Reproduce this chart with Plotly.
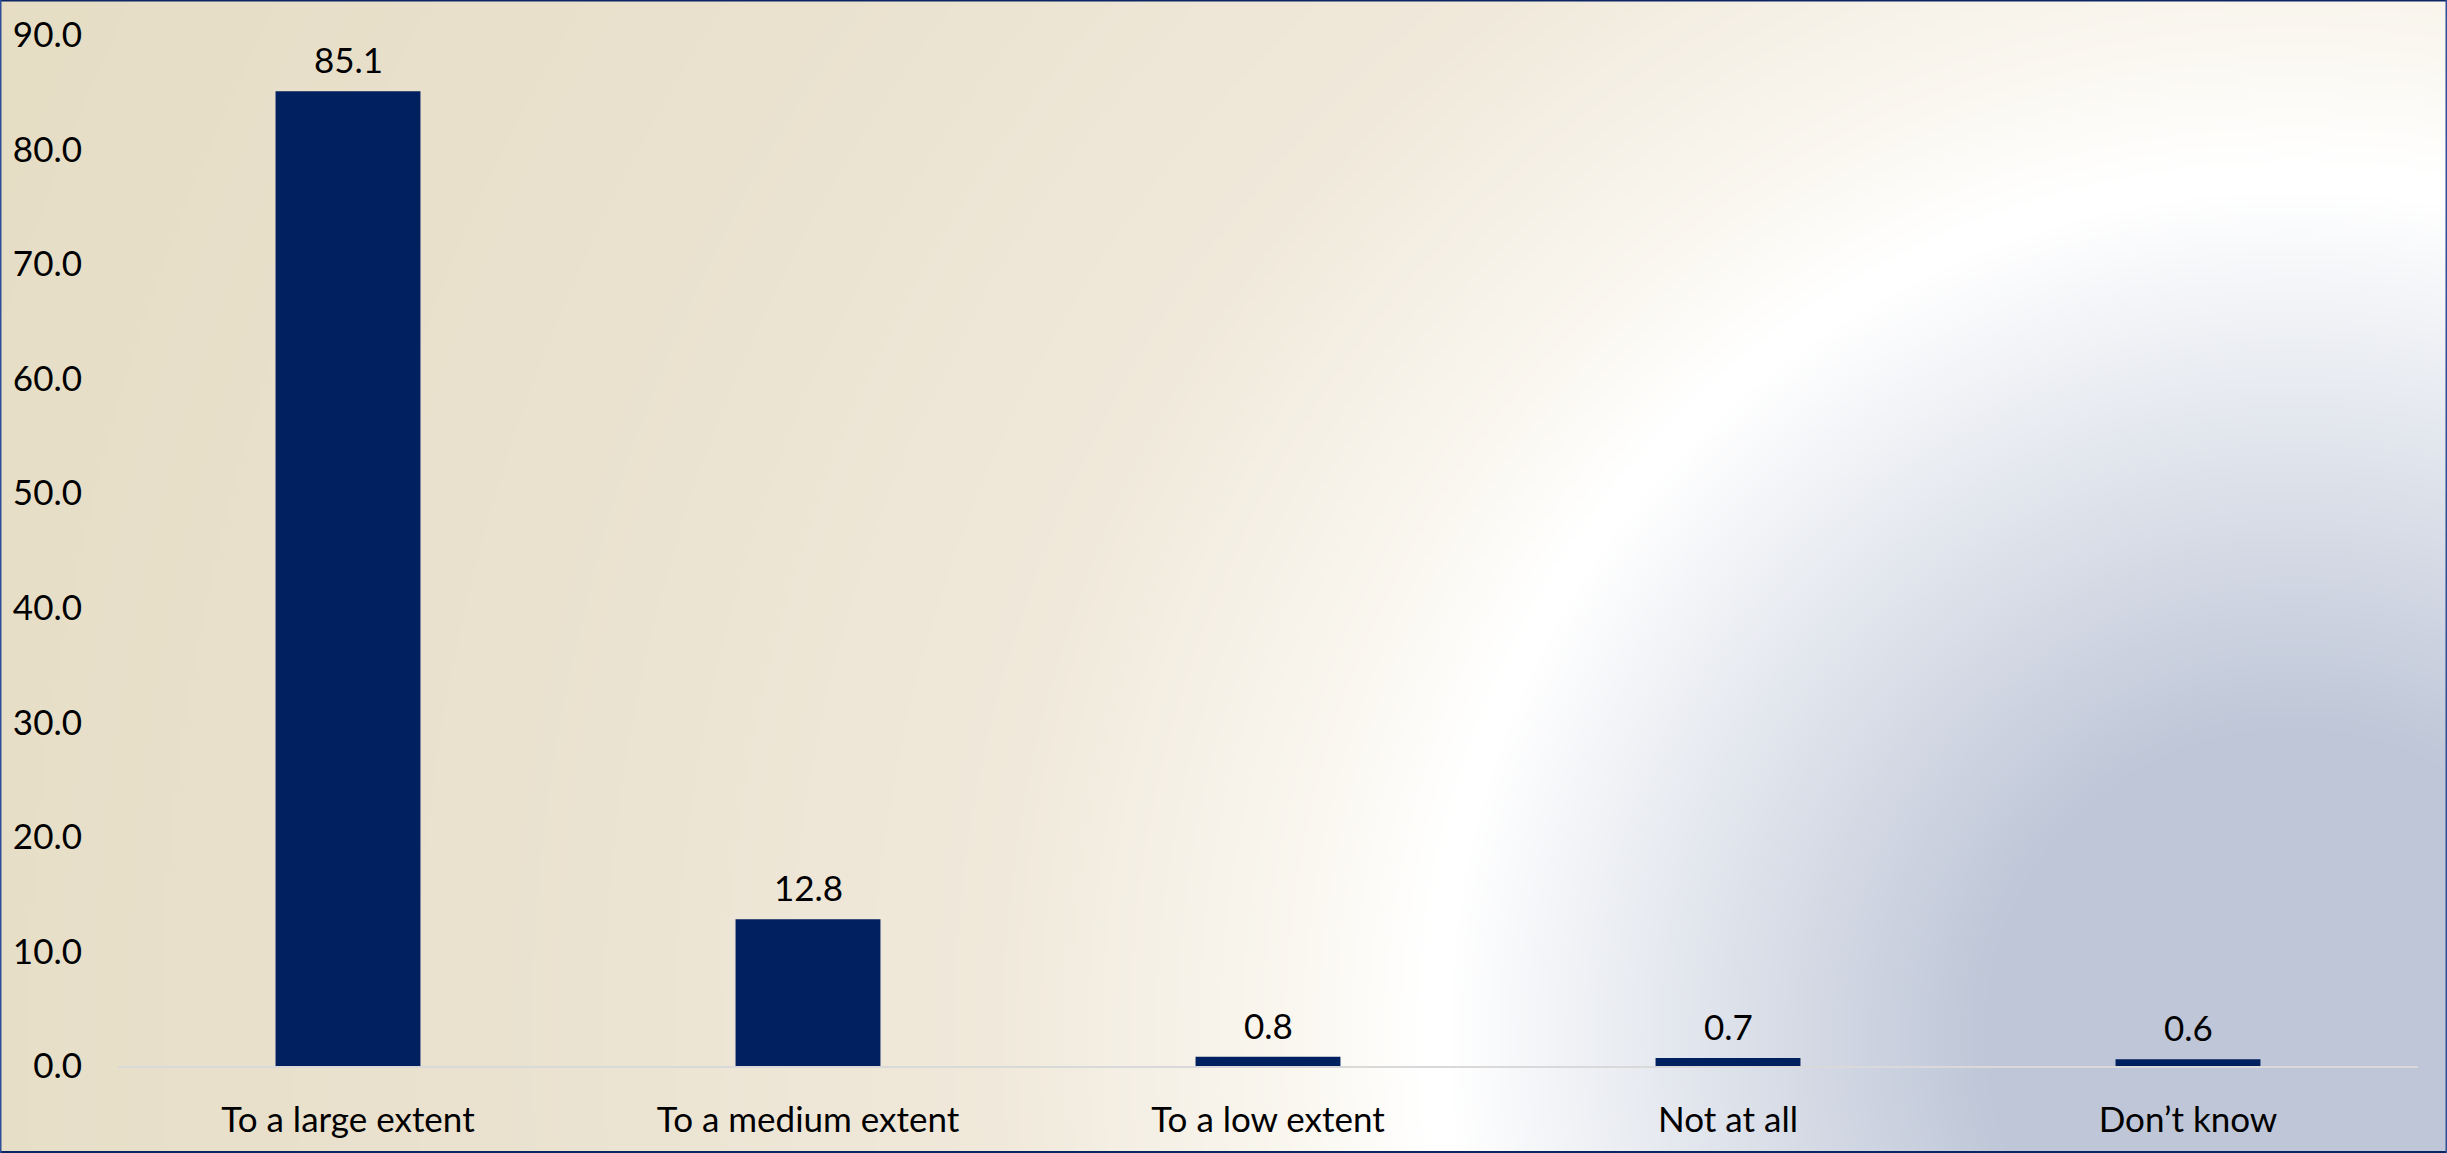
import base64
import struct
import zlib

import numpy as np
import plotly.graph_objects as go

# ---------------- data ----------------
categories = ["To a large extent", "To a medium extent", "To a low extent", "Not at all", "Don\u2019t know"]
values = [85.1, 12.8, 0.8, 0.7, 0.6]
y_ticks = [0, 10, 20, 30, 40, 50, 60, 70, 80, 90]

# ---------------- geometry / style ----------------
W, H = 2447, 1153
M_L, M_R, M_T, M_B = 118, 29, 35, 87
PW, PH = W - M_L - M_R, H - M_T - M_B
BAR_COLOR = "#002060"
FONT = "Lato"
FSIZE = 35


# ---------------- background gradient image ----------------
def make_background():
    s = 4
    w, h = W // s, H // s
    ys, xs = np.mgrid[0:h, 0:w]
    X = (xs + 0.5) * W / w
    Y = (ys + 0.5) * H / h
    d = np.hypot(X - 2293, Y - 1036)
    stops_d = [0, 300, 845, 870, 1000, 1300, 1800, 2600]
    stops_c = [(190, 198, 215), (190, 198, 215), (255, 255, 255), (255, 255, 255),
               (250, 247, 240), (240, 233, 219), (234, 226, 207), (229, 220, 195)]
    img = np.stack([np.interp(d, stops_d, [c[i] for c in stops_c]) for i in range(3)],
                   axis=-1).round().astype(np.uint8)
    raw = b"".join(b"\x00" + img[r].tobytes() for r in range(h))

    def chunk(t, data):
        return (struct.pack(">I", len(data)) + t + data
                + struct.pack(">I", zlib.crc32(t + data) & 0xFFFFFFFF))

    png = (b"\x89PNG\r\n\x1a\n"
           + chunk(b"IHDR", struct.pack(">IIBBBBB", w, h, 8, 2, 0, 0, 0))
           + chunk(b"IDAT", zlib.compress(raw, 9))
           + chunk(b"IEND", b""))
    return "data:image/png;base64," + base64.b64encode(png).decode()


fig = go.Figure()
fig.add_trace(go.Bar(
    x=categories, y=values,
    marker=dict(color=BAR_COLOR, line=dict(width=0)),
    hoverinfo="skip",
))

for c, v in zip(categories, values):
    fig.add_annotation(x=c, y=v, text=f"{v:.1f}", showarrow=False,
                       yanchor="middle", yshift=32,
                       font=dict(family=FONT, size=FSIZE, color="#000000"))

fx0 = -M_L / PW
fx1 = 1 + M_R / PW
fy0 = -M_B / PH
fy1 = 1 + M_T / PH

fig.add_layout_image(dict(
    source=make_background(), xref="paper", yref="paper",
    x=fx0, y=fy1, sizex=fx1 - fx0, sizey=fy1 - fy0,
    xanchor="left", yanchor="top", sizing="stretch", layer="below",
))

# border
border_h = "#0b2565"
border_v = "#2e4f98"
fig.add_shape(type="line", xref="paper", yref="paper", x0=fx0, x1=fx1, y0=fy1, y1=fy1,
              line=dict(color=border_h, width=3))
fig.add_shape(type="line", xref="paper", yref="paper", x0=fx0, x1=fx1, y0=fy0, y1=fy0,
              line=dict(color=border_h, width=4))
fig.add_shape(type="line", xref="paper", yref="paper", x0=fx0, x1=fx0, y0=fy0, y1=fy1,
              line=dict(color=border_v, width=3))
fig.add_shape(type="line", xref="paper", yref="paper", x0=fx1, x1=fx1, y0=fy0, y1=fy1,
              line=dict(color=border_v, width=3))

fig.update_layout(
    width=W, height=H, autosize=False,
    margin=dict(l=M_L, r=M_R, t=M_T, b=M_B, pad=0),
    paper_bgcolor="#ffffff",
    plot_bgcolor="rgba(0,0,0,0)",
    bargap=0.685,
    showlegend=False,
    font=dict(family=FONT, size=FSIZE, color="#000000"),
)
fig.update_xaxes(
    showgrid=False, zeroline=False,
    showline=True, linecolor="#d9d9d9", linewidth=2,
    ticks="", tickfont=dict(family=FONT, size=FSIZE, color="#000000"),
    ticklabelstandoff=22, automargin=False, fixedrange=True,
)
fig.update_yaxes(
    range=[0, 90], tickvals=y_ticks, ticktext=[f"{t:.1f}" for t in y_ticks],
    showgrid=False, zeroline=False, showline=False,
    ticks="", tickfont=dict(family=FONT, size=FSIZE, color="#000000"),
    ticklabelstandoff=35, automargin=False, fixedrange=True,
)

fig.write_html(
    "out.html",
    config={"displayModeBar": False},
    post_script="document.body.style.margin='0';document.body.style.overflow='hidden';",
)
